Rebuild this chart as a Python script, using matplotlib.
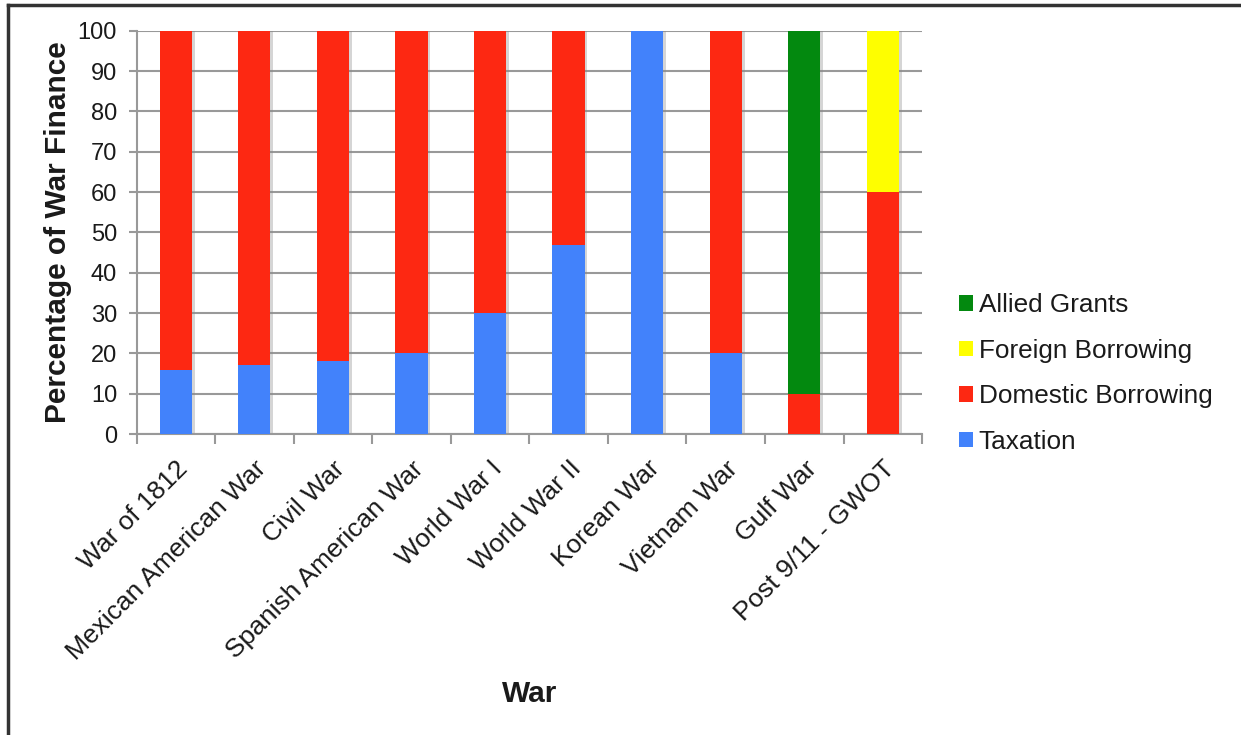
import matplotlib.pyplot as plt
import matplotlib.lines as mlines
import numpy as np

plt.rcParams['font.family'] = ['Liberation Sans', 'DejaVu Sans']

# data (percent of war finance)
wars = ["War of 1812", "Mexican American War", "Civil War", "Spanish American War",
        "World War I", "World War II", "Korean War", "Vietnam War", "Gulf War",
        "Post 9/11 - GWOT"]
taxation = [16, 17, 18, 20, 30, 47, 100, 20, 0, 0]
domestic = [84, 83, 82, 80, 70, 53, 0, 80, 10, 60]
foreign = [0, 0, 0, 0, 0, 0, 0, 0, 0, 40]
allied = [0, 0, 0, 0, 0, 0, 0, 0, 90, 0]

series = [("Taxation", taxation, "#4282fb"),
          ("Domestic Borrowing", domestic, "#fd2812"),
          ("Foreign Borrowing", foreign, "#fefe00"),
          ("Allied Grants", allied, "#03890f")]

fig = plt.figure(figsize=(12.41, 7.35), dpi=100)
ax = fig.add_axes([0.110, 0.4095, 0.633, 0.5485])

x = np.arange(len(wars))
width = 0.41

# soft shadow on the right of each bar
totals = np.sum([s[1] for s in series], axis=0)
ax.bar(x + 0.035, totals, width, color='#888888', alpha=0.35, zorder=2, linewidth=0)

bottom = np.zeros(len(wars))
handles = []
for name, vals, color in series:
    b = ax.bar(x, vals, width, bottom=bottom, color=color, zorder=3, linewidth=0,
               label=name)
    handles.append(b)
    bottom += np.array(vals)

ax.set_xlim(-0.5, len(wars) - 0.5)
ax.set_ylim(0, 100)
ax.set_yticks(range(0, 101, 10))
ax.tick_params(axis='y', labelsize=17, length=6, color='#999999', width=1.5, pad=8,
               labelcolor='#1a1a1a')
ax.yaxis.grid(True, color='#999999', linewidth=1.5, zorder=0)
ax.set_axisbelow(True)

# tick marks between categories, labels at category centers
ax.set_xticks(np.arange(-0.5, len(wars), 1.0))
ax.set_xticklabels([])
ax.set_xticks(x, minor=True)
ax.set_xticklabels(wars, minor=True, rotation=45, ha='right', va='top',
                   rotation_mode='anchor', fontsize=19, color='#1a1a1a')
ax.tick_params(axis='x', which='major', length=7, color='#999999', width=1.5)
ax.tick_params(axis='x', which='minor', length=0, pad=16)

for side in ['top', 'right']:
    ax.spines[side].set_visible(False)
for side in ['left', 'bottom']:
    ax.spines[side].set_color('#999999')
    ax.spines[side].set_linewidth(1.5)

ax.set_ylabel("Percentage of War Finance", fontsize=21.5, fontweight='bold',
              labelpad=4, color='#1a1a1a')
ax.set_xlabel("War", fontsize=21.5, fontweight='bold', color='#1a1a1a')
ax.xaxis.set_label_coords(0.5, -0.61)

leg = ax.legend(handles[::-1], [s[0] for s in series][::-1], loc='center left',
                bbox_to_anchor=(1.017, 0.15), frameon=False, fontsize=18.8,
                handlelength=0.55, handleheight=0.55, handletextpad=0.2,
                labelspacing=0.82)
for t in leg.get_texts():
    t.set_color('#1a1a1a')

# outer frame (left and top edges visible)
fig.add_artist(mlines.Line2D([0.0065, 0.0065], [0.0, 0.993], color='#333333', lw=2.5))
fig.add_artist(mlines.Line2D([0.0065, 1.0], [0.993, 0.993], color='#333333', lw=2.5))

fig.savefig('out.png', dpi=100)
